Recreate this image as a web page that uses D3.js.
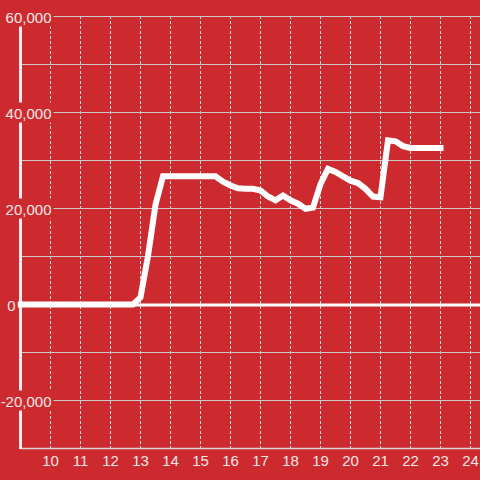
<!DOCTYPE html>
<html>
<head>
<meta charset="utf-8">
<script src="https://cdn.jsdelivr.net/npm/d3@7"></script>
<style>
  html, body { margin: 0; padding: 0; background: #cd2a2f; }
  svg { display: block; font-family: "Liberation Sans", Arial, sans-serif; }
</style>
</head>
<body>
<svg width="480" height="480"></svg>
<script>
// hours of the day and the value at each
var hours = [9, 12.75, 13, 13.25, 13.5, 13.75, 14, 14.5, 15, 15.5, 15.75, 16, 16.25, 16.5, 16.75,
  17, 17.25, 17.5, 17.75, 18, 18.25, 18.5, 18.75, 19, 19.25, 19.5, 19.75, 20, 20.25, 20.5, 20.75,
  21, 21.25, 21.5, 21.75, 22, 22.5, 23]
var values = [0, 0, 1500, 10100, 20800, 26700, 26700, 26700, 26700, 26700, 25600, 24800, 24200, 24100, 24100,
  23750, 22500, 21700, 22700, 21700, 21000, 19950, 20200, 25100, 28250, 27600, 26700, 25800, 25300, 24100, 22500,
  22350, 34200, 34000, 33000, 32600, 32600, 32600]
var xTicks = [10, 11, 12, 13, 14, 15, 16, 17, 18, 19, 20, 21, 22, 23, 24]
var yTicks = [60000, 40000, 20000, 0, -20000]
var yGrid = [60000, 50000, 40000, 30000, 20000, 10000, -10000, -20000]

var bg = "#cd2a2f"
var svg = d3.select("svg")

var x = d3.scaleLinear().domain([9, 24.3167]).range([20.5, 480])
var y = d3.scaleLinear().domain([-30000, 60000]).range([448.5, 16.5])

// vertical dashed grid
svg.append("g").selectAll("line")
    .data(xTicks).enter()
    .append("line")
    .attr("x1", function (d) { return x(d) })
    .attr("x2", function (d) { return x(d) })
    .attr("y1", 16)
    .attr("y2", 448)
    .attr("stroke", "#e6dcdc")
    .attr("stroke-width", 1)
    .attr("stroke-dasharray", "3,2")

// horizontal grid
svg.append("g").selectAll("line")
    .data(yGrid).enter()
    .append("line")
    .attr("x1", 20)
    .attr("x2", 480)
    .attr("y1", function (d) { return y(d) })
    .attr("y2", function (d) { return y(d) })
    .attr("stroke", "#cfc6c6")
    .attr("stroke-width", 1)

// bottom line
svg.append("line")
    .attr("x1", 20).attr("x2", 480)
    .attr("y1", y(-30000)).attr("y2", y(-30000))
    .attr("stroke", "#dcd2d2").attr("stroke-width", 1.5)

// zero line
svg.append("line")
    .attr("x1", 20).attr("x2", 480)
    .attr("y1", y(0) + 0.5).attr("y2", y(0) + 0.5)
    .attr("stroke", "#ffffff").attr("stroke-width", 3)

// y axis
svg.append("line")
    .attr("x1", x(9)).attr("x2", x(9))
    .attr("y1", 16).attr("y2", 449)
    .attr("stroke", "#f4eeee").attr("stroke-width", 3)

// data line
var line = d3.line()
    .x(function (d, i) { return x(hours[i]) })
    .y(function (d) { return y(d) })

svg.append("path")
    .attr("d", line(values))
    .attr("fill", "none")
    .attr("stroke", "#ffffff")
    .attr("stroke-width", 6)
    .attr("stroke-linecap", "square")

// y labels with background boxes
var fmt = d3.format(",")
var yl = svg.append("g").selectAll("g")
    .data(yTicks).enter()
    .append("g")

yl.append("text")
    .attr("x", function (d) { return d === 0 ? 15.5 : 51.5 })
    .attr("y", function (d) { return y(d) + 6 })
    .attr("text-anchor", "end")
    .attr("font-size", 15)
    .attr("fill", "#f3e6e6")
    .text(function (d) { return fmt(d).replace("−", "-") })

yl.each(function () {
    var g = d3.select(this)
    var b = g.select("text").node().getBBox()
    g.insert("rect", "text")
        .attr("x", b.x - 2)
        .attr("y", b.y - 2)
        .attr("width", b.width + 4)
        .attr("height", b.height + 3)
        .attr("fill", bg)
})

// x labels
svg.append("g").selectAll("text")
    .data(xTicks).enter()
    .append("text")
    .attr("x", function (d) { return x(d) })
    .attr("y", 466)
    .attr("text-anchor", "middle")
    .attr("font-size", 15)
    .attr("fill", "#f3e6e6")
    .text(function (d) { return d })
</script>
</body>
</html>
